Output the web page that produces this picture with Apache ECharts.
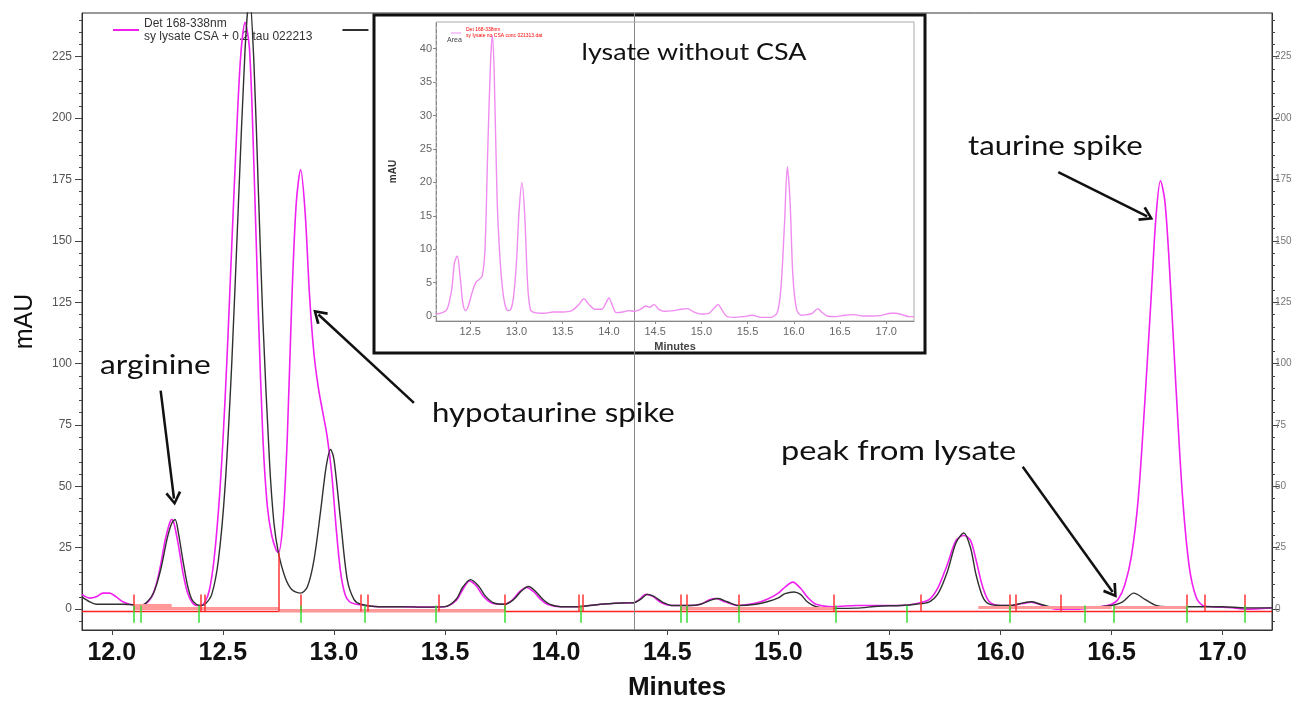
<!DOCTYPE html>
<html>
<head>
<meta charset="utf-8">
<script src="https://cdn.jsdelivr.net/npm/echarts@6/dist/echarts.min.js"></script>
<style>
  html, body { margin: 0; padding: 0; background: #fff; }
  #chart { width: 1301px; height: 706px; }
</style>
</head>
<body>
<div id="chart"></div>
<script>
/**
 * 色谱数据 (分钟, mAU)
 */
// 主图 黑线: lysate + CSA
var csaTrace = [
  [11.866, 5], [11.90, 3], [11.93, 2], [12.00, 2], [12.05, 2], [12.10, 1.8], [12.13, 1.5],
  [12.16, 3], [12.19, 7], [12.22, 16], [12.25, 29], [12.27, 35], [12.285, 36.5], [12.30, 31],
  [12.32, 20], [12.34, 10], [12.36, 4], [12.38, 2], [12.40, 1.5], [12.42, 2], [12.45, 6],
  [12.48, 20], [12.51, 50], [12.54, 100], [12.57, 165], [12.60, 228], [12.62, 250],
  [12.64, 222], [12.66, 170], [12.68, 118], [12.71, 60], [12.73, 35], [12.75, 23],
  [12.78, 13], [12.81, 8], [12.85, 6.5], [12.88, 9], [12.91, 20], [12.94, 40], [12.965, 58],
  [12.985, 65], [13.00, 61], [13.03, 36], [13.06, 12], [13.09, 4], [13.12, 2], [13.20, 1],
  [13.30, 1], [13.40, 0.8], [13.50, 1], [13.55, 4], [13.58, 9], [13.615, 12], [13.65, 9.5],
  [13.68, 5.5], [13.72, 2.5], [13.77, 2], [13.81, 4], [13.845, 7.5], [13.875, 9.2],
  [13.91, 7], [13.94, 4], [13.97, 2], [14.02, 1], [14.10, 1], [14.20, 2], [14.30, 2.5],
  [14.35, 2.6], [14.38, 4], [14.41, 6], [14.44, 5.2], [14.48, 2.8], [14.52, 1.5],
  [14.60, 1.5], [14.65, 2], [14.70, 3.8], [14.73, 4.3], [14.77, 3], [14.82, 1.5],
  [14.90, 2], [14.95, 3], [15.00, 4.6], [15.03, 6.3], [15.07, 7], [15.10, 6], [15.13, 3],
  [15.17, 1], [15.25, 0.3], [15.35, 0.4], [15.45, 1.2], [15.55, 1.5], [15.62, 2],
  [15.68, 3], [15.72, 6.5], [15.76, 15], [15.80, 27], [15.835, 31], [15.865, 25],
  [15.89, 14], [15.92, 5], [15.95, 2], [16.00, 1.5], [16.05, 1.5], [16.10, 2.5],
  [16.14, 3], [16.18, 2], [16.25, 0.5], [16.35, 0.5], [16.45, 1], [16.50, 1.5],
  [16.55, 3], [16.60, 6.5], [16.65, 4], [16.70, 1.5], [16.75, 1], [16.85, 1],
  [17.00, 1], [17.10, 0.5], [17.222, 0.5]
];

// 主图 品红线: lysate CSA + 0.2 tau
var tauTrace = [
  [11.866, 6], [11.90, 4.5], [11.93, 5], [11.96, 6.5], [11.99, 6.5], [12.02, 5],
  [12.05, 3], [12.08, 2], [12.12, 1.5], [12.15, 2], [12.18, 5], [12.20, 10], [12.22, 18],
  [12.24, 28], [12.26, 35], [12.27, 36.5], [12.28, 35], [12.30, 26], [12.32, 15],
  [12.34, 7], [12.36, 3], [12.38, 1.5], [12.40, 1.5], [12.42, 3], [12.44, 8], [12.46, 20],
  [12.48, 40], [12.50, 68], [12.52, 105], [12.54, 148], [12.56, 190], [12.58, 225],
  [12.60, 239], [12.62, 228], [12.64, 180], [12.66, 120], [12.68, 70], [12.70, 42],
  [12.72, 30], [12.74, 24], [12.75, 23], [12.77, 35], [12.79, 70], [12.81, 125],
  [12.83, 165], [12.85, 179], [12.87, 162], [12.89, 128], [12.91, 104], [12.93, 90],
  [12.95, 80], [12.97, 70], [12.99, 55], [13.01, 33], [13.03, 15], [13.05, 6],
  [13.07, 3], [13.10, 2], [13.20, 1], [13.30, 1], [13.40, 0.8], [13.50, 1], [13.55, 3.5],
  [13.58, 8], [13.61, 11.5], [13.64, 9.5], [13.67, 5.5], [13.71, 2.5], [13.76, 2],
  [13.80, 3.5], [13.835, 7], [13.865, 8.8], [13.90, 7], [13.93, 4], [13.96, 2],
  [14.02, 1], [14.10, 1], [14.20, 2], [14.30, 2.5], [14.35, 2.6], [14.375, 4], [14.405, 6],
  [14.435, 5.2], [14.47, 2.8], [14.52, 1.5], [14.60, 1.5], [14.65, 2], [14.69, 3.8],
  [14.72, 4.3], [14.76, 3], [14.82, 1.5], [14.90, 2.5], [14.95, 4], [15.00, 6.5],
  [15.03, 9], [15.065, 11], [15.10, 8.5], [15.13, 5], [15.17, 2], [15.25, 1],
  [15.35, 1.5], [15.45, 1.5], [15.55, 1.5], [15.62, 2.2], [15.68, 4], [15.72, 9],
  [15.76, 18], [15.80, 28], [15.835, 30], [15.865, 28], [15.89, 20], [15.92, 9],
  [15.95, 3], [16.00, 1.5], [16.05, 1.5], [16.10, 2.3], [16.14, 2.8], [16.18, 1.8],
  [16.25, 0], [16.35, 0], [16.45, 1], [16.50, 2], [16.53, 4], [16.56, 10], [16.59, 22],
  [16.62, 45], [16.65, 85], [16.68, 130], [16.70, 160], [16.72, 174.5], [16.74, 166],
  [16.76, 140], [16.79, 90], [16.82, 45], [16.85, 17], [16.88, 5], [16.91, 1.5],
  [16.95, 1], [17.05, 0.5], [17.10, 0], [17.222, 0.5]
];

// 插图: lysate without CSA
var noCsaTrace = [
  [12.13, 0.3], [12.20, 0.5], [12.25, 1], [12.30, 4], [12.33, 8], [12.36, 9], [12.39, 6],
  [12.42, 2], [12.45, 0.8], [12.48, 1.5], [12.52, 3.5], [12.56, 5], [12.60, 5.5],
  [12.63, 6], [12.66, 10], [12.69, 25], [12.72, 38], [12.74, 42], [12.76, 36], [12.79, 18],
  [12.82, 9], [12.85, 4], [12.88, 1.5], [12.91, 0.8], [12.94, 1], [12.97, 3], [13.00, 8],
  [13.03, 16], [13.06, 20], [13.09, 15], [13.12, 5], [13.15, 1], [13.20, 0.5], [13.30, 0.4],
  [13.40, 0.6], [13.50, 0.6], [13.60, 0.8], [13.68, 1.8], [13.73, 2.6], [13.78, 1.8],
  [13.85, 1], [13.92, 1], [13.97, 2], [14.00, 2.7], [14.04, 1.5], [14.08, 0.5], [14.15, 0.6],
  [14.22, 0.8], [14.28, 0.7], [14.34, 1], [14.40, 1.5], [14.44, 1.3], [14.49, 1.7],
  [14.54, 1], [14.60, 0.7], [14.70, 0.8], [14.78, 1], [14.85, 1.1], [14.92, 0.6],
  [15.00, 0.3], [15.08, 0.4], [15.14, 1.2], [15.18, 1.7], [15.22, 1], [15.27, 0],
  [15.35, -0.2], [15.45, -0.1], [15.55, 0.1], [15.65, -0.2], [15.75, -0.2], [15.82, 0.5],
  [15.86, 4], [15.90, 14], [15.93, 22.3], [15.96, 17], [15.99, 6], [16.03, 1], [16.08, 0.1],
  [16.14, 0.2], [16.20, 0.4], [16.26, 1.1], [16.30, 0.6], [16.36, 0], [16.45, -0.1],
  [16.55, 0.1], [16.65, 0.2], [16.75, 0], [16.85, 0], [16.95, 0.1], [17.05, 0.4],
  [17.10, 0.4], [17.17, 0.2], [17.25, -0.1], [17.30, -0.1]
];

// 积分事件 (分钟)
var redTicks = [12.10, 12.40, 12.42, 12.85, 13.12, 13.15, 13.47, 13.77, 14.10, 14.12,
  14.56, 14.59, 14.82, 15.25, 15.64, 16.04, 16.07, 16.27, 16.84, 16.92, 17.10];
var greenTicks = [12.10, 12.13, 12.39, 12.85, 13.14, 13.46, 13.77, 14.11, 14.56, 14.59,
  14.82, 15.26, 15.58, 16.04, 16.38, 16.51, 16.84, 17.10];
var dropLine = [12.75, 23];
// 积分基线段 [起, 止, mAU]
var baselineSegs = [[12.10, 12.27, 1.5], [12.10, 12.75, 0.5], [12.75, 13.77, -0.3],
  [14.56, 15.25, 0.3], [15.90, 16.50, 0.8], [16.51, 16.84, 0.6]];
var baselineLevel = -1;
var cursorTime = 14.35;

// 坐标轴刻度
var xTicks = [12.0, 12.5, 13.0, 13.5, 14.0, 14.5, 15.0, 15.5, 16.0, 16.5, 17.0];
var yTicks = [0, 25, 50, 75, 100, 125, 150, 175, 200, 225];
var yMinorTicks = [-5, 5, 10, 15, 20, 30, 35, 40, 45, 55, 60, 65, 70, 80, 85, 90, 95,
  105, 110, 115, 120, 130, 135, 140, 145, 155, 160, 165, 170, 180, 185, 190, 195,
  205, 210, 215, 220, 230, 235, 240];
var insetXTicks = [12.5, 13.0, 13.5, 14.0, 14.5, 15.0, 15.5, 16.0, 16.5, 17.0];
var insetYTicks = [0, 5, 10, 15, 20, 25, 30, 35, 40];

// 注释箭头 [[起点], [终点]]
var arrows = [
  [[12.22, 89], [12.28, 45]],
  [[13.36, 84], [12.93, 120]],
  [[16.26, 178], [16.66, 160]],
  [[16.10, 58], [16.505, 7]]
];

var X_MIN = 11.866, X_MAX = 17.222, Y_MIN = -8.5, Y_MAX = 242.8;
var CHEVRON = 'path://M5,0 L10,9 L8.6,10.2 L5,3.4 L1.4,10.2 L0,9 Z';
var ANNO_FONT = 'Lato, "Open Sans", sans-serif';
var AXIS_FONT = 'Arial, "Liberation Sans", sans-serif';

var myChart = echarts.init(document.getElementById('chart'));

function minorAxis(pos) {
  return {
    type: 'value', gridIndex: 0, position: pos, min: Y_MIN, max: Y_MAX,
    axisLine: { show: false, onZero: false }, splitLine: { show: false },
    axisLabel: { show: false },
    axisTick: { show: true, customValues: yMinorTicks, length: 3, lineStyle: { color: '#444' } }
  };
}

function anno(text, x, y, size, sx) {
  return {
    type: 'text', x: x, y: y, z: 12, scaleX: sx,
    style: { text: text, fill: '#111', font: size + 'px ' + ANNO_FONT, textVerticalAlign: 'middle' }
  };
}

var segLines = [];
baselineSegs.forEach(function (s) {
  segLines.push([{ coord: [s[0], s[2]] }, { coord: [s[1], s[2]] }]);
});
var redLines = redTicks.map(function (t) {
  return [{ coord: [t, baselineLevel] }, { coord: [t, 6] }];
});
redLines.push([{ coord: [dropLine[0], baselineLevel] }, { coord: [dropLine[0], dropLine[1]] }]);
var greenLines = greenTicks.map(function (t) {
  return [{ coord: [t, 1.5] }, { coord: [t, -5.5] }];
});
var arrowLines = arrows.map(function (a) {
  return [{ coord: a[0] }, { coord: a[1] }];
});

var option = {
  animation: false,
  backgroundColor: '#fff',
  grid: [
    { left: 82, right: 29, top: 13, bottom: 71, show: true, borderColor: '#333', borderWidth: 1, backgroundColor: 'transparent' },
    { left: 436, right: 387, top: 22, bottom: 385, show: true, borderColor: '#aaa', borderWidth: 1, z: 10 }
  ],
  legend: [
    {
      data: ['Det 168-338nm\nsy lysate CSA + 0.2 tau 022213', 'Det 168-338nm\nsy lysate CSA 022213'],
      left: 108, top: 12, itemWidth: 26, itemHeight: 2, itemGap: 30, icon: 'rect',
      textStyle: { fontFamily: AXIS_FONT, fontSize: 12, color: '#333', lineHeight: 13 },
      z: 1
    },
    {
      data: ['Det 168-338nm\nsy lysate no CSA conc 021313.dat'],
      left: 446, top: 22, itemWidth: 10, itemHeight: 1, icon: 'rect',
      textStyle: { fontFamily: AXIS_FONT, fontSize: 5, color: '#f00', lineHeight: 6 },
      z: 12
    }
  ],
  xAxis: [
    {
      type: 'value', gridIndex: 0, min: X_MIN, max: X_MAX, position: 'bottom',
      axisLine: { show: true, onZero: false, lineStyle: { color: '#333' } },
      axisTick: { show: true, customValues: xTicks, length: 5, lineStyle: { color: '#444' } },
      splitLine: { show: false },
      axisLabel: {
        customValues: xTicks, margin: 11,
        formatter: function (v) { return v.toFixed(1); },
        fontFamily: AXIS_FONT, fontSize: 25, fontWeight: 'bold', color: '#111'
      },
      name: 'Minutes', nameLocation: 'middle', nameGap: 45,
      nameTextStyle: { fontFamily: AXIS_FONT, fontSize: 26, fontWeight: 'bold', color: '#111' }
    },
    {
      type: 'value', gridIndex: 1, min: 12.13, max: 17.30, z: 10, position: 'bottom',
      axisLine: { show: true, onZero: false, lineStyle: { color: '#888' } },
      axisTick: { show: true, customValues: insetXTicks, length: 3, lineStyle: { color: '#888' } },
      splitLine: { show: false },
      axisLabel: {
        customValues: insetXTicks, margin: 5,
        formatter: function (v) { return v.toFixed(1); },
        fontFamily: AXIS_FONT, fontSize: 11, color: '#666'
      },
      name: 'Minutes', nameLocation: 'middle', nameGap: 20,
      nameTextStyle: { fontFamily: AXIS_FONT, fontSize: 11, fontWeight: 'bold', color: '#444' }
    }
  ],
  yAxis: [
    {
      type: 'value', gridIndex: 0, position: 'left', min: Y_MIN, max: Y_MAX,
      axisLine: { show: true, onZero: false, lineStyle: { color: '#333' } },
      axisTick: { show: true, customValues: yTicks, length: 7, lineStyle: { color: '#444' } },
      splitLine: { show: false },
      axisLabel: { customValues: yTicks, margin: 10, fontFamily: AXIS_FONT, fontSize: 12, color: '#555' },
      name: 'mAU', nameLocation: 'middle', nameGap: 44, nameRotate: 90,
      nameTextStyle: { fontFamily: AXIS_FONT, fontSize: 25, color: '#111' }
    },
    minorAxis('left'),
    {
      type: 'value', gridIndex: 0, position: 'right', min: Y_MIN, max: Y_MAX,
      axisLine: { show: true, onZero: false, lineStyle: { color: '#333' } },
      axisTick: { show: true, customValues: yTicks, length: 7, lineStyle: { color: '#444' } },
      splitLine: { show: false },
      axisLabel: { customValues: yTicks, margin: 3, fontFamily: AXIS_FONT, fontSize: 10, color: '#777' }
    },
    minorAxis('right'),
    {
      type: 'value', gridIndex: 1, min: -0.75, max: 44, z: 10,
      axisLine: { show: true, onZero: false, lineStyle: { color: '#888', type: 'dashed' } },
      axisTick: { show: true, customValues: insetYTicks, length: 3, lineStyle: { color: '#888' } },
      splitLine: { show: false },
      axisLabel: { customValues: insetYTicks, margin: 4, fontFamily: AXIS_FONT, fontSize: 11, color: '#666' },
      name: 'mAU', nameLocation: 'middle', nameGap: 38, nameRotate: 90,
      nameTextStyle: { fontFamily: AXIS_FONT, fontSize: 10, fontWeight: 'bold', color: '#333' }
    }
  ],
  graphic: {
    elements: [
      { type: 'rect', shape: { x: 374, y: 15, width: 551, height: 338 }, style: { fill: '#fff', stroke: '#111', lineWidth: 3 }, z: 5 },
      { type: 'text', x: 694, y: 52, z: 12, scaleX: 1.12, style: { text: 'lysate without CSA', fill: '#111', font: '24px ' + ANNO_FONT, textAlign: 'center', textVerticalAlign: 'middle' } },
      { type: 'text', x: 447, y: 37, z: 12, style: { text: 'Area', fill: '#444', font: '7px Arial, sans-serif' } },
      anno('arginine', 100, 366, 26, 1.22),
      anno('hypotaurine spike', 432, 414, 26, 1.2),
      anno('taurine spike', 968, 147, 26, 1.2),
      anno('peak from lysate', 781, 452, 26, 1.25)
    ]
  },
  series: [
    {
      name: 'Det 168-338nm\nsy lysate CSA + 0.2 tau 022213', type: 'line', xAxisIndex: 0, yAxisIndex: 0,
      data: tauTrace, showSymbol: false, smooth: 0.3, z: 2,
      lineStyle: { color: '#f020f0', width: 1.6 }, itemStyle: { color: '#f020f0' }
    },
    {
      name: 'Det 168-338nm\nsy lysate CSA 022213', type: 'line', xAxisIndex: 0, yAxisIndex: 0,
      data: csaTrace, showSymbol: false, smooth: 0.3, z: 3,
      lineStyle: { color: '#303030', width: 1.4 }, itemStyle: { color: '#303030' }
    },
    {
      type: 'line', xAxisIndex: 0, yAxisIndex: 0, data: [[X_MIN, baselineLevel], [X_MAX, baselineLevel]],
      showSymbol: false, silent: true, z: 1,
      lineStyle: { color: '#f22', width: 1.5 },
      markLine: { silent: true, symbol: 'none', label: { show: false }, lineStyle: { color: '#f99', width: 3, type: 'solid' }, data: segLines }
    },
    {
      type: 'line', xAxisIndex: 0, yAxisIndex: 0, data: [], z: 4, silent: true,
      markLine: { silent: true, symbol: 'none', label: { show: false }, lineStyle: { color: '#f33', width: 1.5, type: 'solid' }, data: redLines }
    },
    {
      type: 'line', xAxisIndex: 0, yAxisIndex: 0, data: [], z: 4, silent: true,
      markLine: { silent: true, symbol: 'none', label: { show: false }, lineStyle: { color: '#3d3', width: 1.5, type: 'solid' }, data: greenLines }
    },
    {
      type: 'line', xAxisIndex: 0, yAxisIndex: 0, data: [], z: 12, silent: true,
      markLine: {
        silent: true, symbol: ['none', CHEVRON], symbolSize: [16, 14], label: { show: false },
        lineStyle: { color: '#111', width: 2.5, type: 'solid' }, itemStyle: { color: '#111' }, data: arrowLines
      }
    },
    {
      name: 'Det 168-338nm\nsy lysate no CSA conc 021313.dat', type: 'line', xAxisIndex: 1, yAxisIndex: 4,
      data: noCsaTrace, showSymbol: false, smooth: 0.3, z: 10,
      lineStyle: { color: '#f08cf0', width: 1.4 }, itemStyle: { color: '#f08cf0' }
    },
    {
      type: 'line', xAxisIndex: 0, yAxisIndex: 0, data: [], z: 30, silent: true,
      markLine: { silent: true, symbol: 'none', label: { show: false }, lineStyle: { color: '#888', width: 1, type: 'solid' }, data: [{ xAxis: cursorTime }] }
    }
  ]
};

myChart.setOption(option);
</script>
</body>
</html>
